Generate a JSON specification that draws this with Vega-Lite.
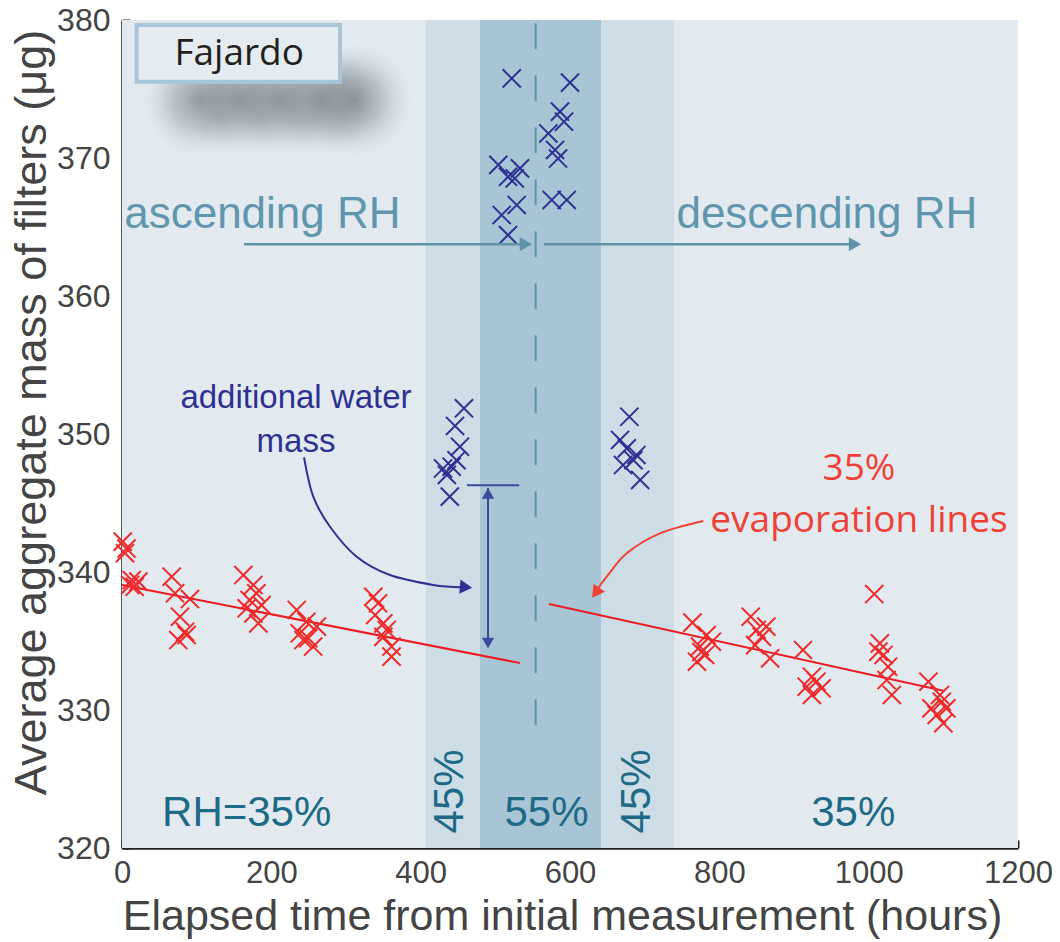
{
  "$schema": "https://vega.github.io/schema/vega-lite/v6.json",
  "width": 896,
  "height": 828,
  "autosize": "none",
  "padding": {"left": 122, "top": 20, "right": 42, "bottom": 94},
  "background": "#ffffff",
  "config": {"view": {"stroke": null}},
  "resolve": {"scale": {"color": "independent", "shape": "independent"}},
  "datasets": {
    "bands": [
      {"band": "base", "t0": 0, "t1": 1200},
      {"band": "mid", "t0": 407, "t1": 739},
      {"band": "core", "t0": 479.5, "t1": 641.5}
    ],
    "shadow": [
      {"t0": 24.1, "t1": 184.8, "m0": 369.85, "m1": 378.55},
      {"t0": 77.6, "t1": 238.3, "m0": 369.85, "m1": 378.55},
      {"t0": 131.2, "t1": 291.9, "m0": 369.85, "m1": 378.55},
      {"t0": 184.8, "t1": 345.5, "m0": 369.85, "m1": 378.55},
      {"t0": 231.7, "t1": 392.4, "m0": 369.85, "m1": 378.55}
    ],
    "points": [
      {"g": "dry", "t": 1, "m": 342.2}, {"g": "dry", "t": 6, "m": 341.7}, {"g": "dry", "t": 4, "m": 341.36},
      {"g": "dry", "t": 13, "m": 339.42}, {"g": "dry", "t": 22, "m": 339.3}, {"g": "dry", "t": 17, "m": 338.93}, {"g": "dry", "t": 11, "m": 339.06},
      {"g": "dry", "t": 66.6, "m": 339.66}, {"g": "dry", "t": 71, "m": 338.46}, {"g": "dry", "t": 91, "m": 338.04}, {"g": "dry", "t": 77.7, "m": 336.76},
      {"g": "dry", "t": 84.4, "m": 335.67}, {"g": "dry", "t": 75.4, "m": 335.07}, {"g": "dry", "t": 86.6, "m": 335.43},
      {"g": "dry", "t": 162.5, "m": 339.78}, {"g": "dry", "t": 176, "m": 339.06}, {"g": "dry", "t": 180, "m": 338.46}, {"g": "dry", "t": 171, "m": 337.97},
      {"g": "dry", "t": 167, "m": 337.37}, {"g": "dry", "t": 187, "m": 337.6}, {"g": "dry", "t": 182.6, "m": 336.28}, {"g": "dry", "t": 176, "m": 337.0},
      {"g": "dry", "t": 234, "m": 337.25}, {"g": "dry", "t": 247, "m": 336.4}, {"g": "dry", "t": 261, "m": 336.04}, {"g": "dry", "t": 238, "m": 335.56},
      {"g": "dry", "t": 249.5, "m": 335.2}, {"g": "dry", "t": 256, "m": 334.6}, {"g": "dry", "t": 243, "m": 335.07},
      {"g": "dry", "t": 336.6, "m": 338.2}, {"g": "dry", "t": 343, "m": 337.73}, {"g": "dry", "t": 339, "m": 336.88}, {"g": "dry", "t": 350, "m": 336.28},
      {"g": "dry", "t": 354.5, "m": 335.8}, {"g": "dry", "t": 350, "m": 335.3}, {"g": "dry", "t": 361, "m": 334.6}, {"g": "dry", "t": 361, "m": 333.87},
      {"g": "dry", "t": 764, "m": 336.33}, {"g": "dry", "t": 783, "m": 335.43}, {"g": "dry", "t": 790, "m": 334.95}, {"g": "dry", "t": 774, "m": 334.59},
      {"g": "dry", "t": 781, "m": 333.99}, {"g": "dry", "t": 770, "m": 333.5}, {"g": "dry", "t": 776, "m": 334.2},
      {"g": "dry", "t": 842, "m": 336.76}, {"g": "dry", "t": 850, "m": 335.8}, {"g": "dry", "t": 863, "m": 336.04}, {"g": "dry", "t": 857, "m": 335.3},
      {"g": "dry", "t": 848, "m": 334.7}, {"g": "dry", "t": 868, "m": 333.74},
      {"g": "dry", "t": 912, "m": 334.35}, {"g": "dry", "t": 924, "m": 332.41}, {"g": "dry", "t": 930, "m": 332.05}, {"g": "dry", "t": 917, "m": 331.69},
      {"g": "dry", "t": 937, "m": 331.57}, {"g": "dry", "t": 924, "m": 331.09},
      {"g": "dry", "t": 1007.5, "m": 338.4},
      {"g": "dry", "t": 1015, "m": 334.83}, {"g": "dry", "t": 1013, "m": 334.23}, {"g": "dry", "t": 1026, "m": 333.14}, {"g": "dry", "t": 1024, "m": 332.17},
      {"g": "dry", "t": 1031, "m": 331.09}, {"g": "dry", "t": 1020, "m": 333.99},
      {"g": "dry", "t": 1080, "m": 332.05}, {"g": "dry", "t": 1095.5, "m": 331.09}, {"g": "dry", "t": 1084, "m": 330.12}, {"g": "dry", "t": 1104, "m": 330.12},
      {"g": "dry", "t": 1091, "m": 329.64}, {"g": "dry", "t": 1100, "m": 329.04}, {"g": "dry", "t": 1098, "m": 330.6},
      {"g": "wet", "t": 458, "m": 351.86}, {"g": "wet", "t": 446, "m": 350.58}, {"g": "wet", "t": 452.6, "m": 349.08}, {"g": "wet", "t": 448, "m": 348.1},
      {"g": "wet", "t": 430, "m": 347.5}, {"g": "wet", "t": 441.5, "m": 347.63}, {"g": "wet", "t": 435, "m": 347.03}, {"g": "wet", "t": 439, "m": 345.46},
      {"g": "wet", "t": 679.5, "m": 351.25}, {"g": "wet", "t": 667, "m": 349.57}, {"g": "wet", "t": 676, "m": 348.96}, {"g": "wet", "t": 689, "m": 348.48},
      {"g": "wet", "t": 685, "m": 348.1}, {"g": "wet", "t": 671, "m": 347.75}, {"g": "wet", "t": 694, "m": 346.67},
      {"g": "wet", "t": 522, "m": 375.77}, {"g": "wet", "t": 600, "m": 375.46}, {"g": "wet", "t": 586.6, "m": 373.36}, {"g": "wet", "t": 592, "m": 372.63},
      {"g": "wet", "t": 571, "m": 371.78}, {"g": "wet", "t": 580, "m": 370.58}, {"g": "wet", "t": 584, "m": 369.96}, {"g": "wet", "t": 504, "m": 369.5},
      {"g": "wet", "t": 533, "m": 369.25}, {"g": "wet", "t": 517, "m": 368.64}, {"g": "wet", "t": 526, "m": 368.52}, {"g": "wet", "t": 575.5, "m": 366.96},
      {"g": "wet", "t": 595.6, "m": 366.96}, {"g": "wet", "t": 528.6, "m": 366.6}, {"g": "wet", "t": 508.5, "m": 365.87}, {"g": "wet", "t": 517, "m": 364.42}
    ],
    "fits": [
      {"seg": "ascending", "t": 0, "m": 339.06}, {"seg": "ascending", "t": 533, "m": 333.4},
      {"seg": "descending", "t": 572, "m": 337.68}, {"seg": "descending", "t": 1100, "m": 331.4}
    ],
    "blueCurve": [
      {"o": 1, "t": 243.8, "m": 348.31}, {"o": 2, "t": 256.2, "m": 345.46}, {"o": 3, "t": 278.6, "m": 343.28},
      {"o": 4, "t": 314.3, "m": 341.11}, {"o": 5, "t": 359, "m": 339.78}, {"o": 6, "t": 417, "m": 339.06}, {"o": 7, "t": 455, "m": 338.89}
    ],
    "redCurve": [
      {"o": 1, "t": 778.5, "m": 343.7}, {"o": 2, "t": 720.5, "m": 342.8}, {"o": 3, "t": 676, "m": 341.36},
      {"o": 4, "t": 649.2, "m": 339.66}, {"o": 5, "t": 636, "m": 338.7}
    ]
  },
  "layer": [
    {
      "data": {"name": "bands"},
      "mark": {"type": "rect"},
      "encoding": {
        "x": {"field": "t0", "type": "quantitative", "scale": {"domain": [0, 1200], "nice": false, "zero": false},
          "axis": {
            "title": "Elapsed time from initial measurement (hours)",
            "values": [0, 200, 400, 600, 800, 1000, 1200], "format": "d",
            "grid": false, "tickSize": -8, "tickWidth": 2, "tickColor": "#231f20",
            "domainColor": "#231f20", "domainWidth": 2.5,
            "labelFont": "Liberation Sans", "labelFontSize": 31, "labelColor": "#444444", "labelPadding": 18,
            "labelFlush": false,
            "titleFont": "Liberation Sans", "titleFontSize": 43, "titleFontWeight": "normal", "titleColor": "#444444",
            "titleX": 440, "titleY": 81, "titleBaseline": "alphabetic", "titleAlign": "center"
          }},
        "x2": {"field": "t1"},
        "y": {"datum": 320, "type": "quantitative", "scale": {"domain": [320, 380], "nice": false, "zero": false},
          "axis": {
            "title": "Average aggregate mass of filters (μg)",
            "values": [320, 330, 340, 350, 360, 370, 380],
            "grid": false, "tickSize": -8, "tickWidth": 2, "tickColor": "#231f20",
            "domainColor": "#231f20", "domainWidth": 2.5,
            "labelFont": "Liberation Sans", "labelFontSize": 32, "labelColor": "#444444", "labelPadding": 20,
            "labelFlush": false,
            "titleFont": "Liberation Sans", "titleFontSize": 45, "titleFontWeight": "normal", "titleColor": "#444444",
            "titleX": -77, "titleY": 392, "titleBaseline": "alphabetic", "titleAlign": "center", "titleAngle": 270
          }},
        "y2": {"datum": 380},
        "color": {"field": "band", "type": "nominal", "scale": {"domain": ["base", "mid", "core"], "range": ["#e2eaef", "#cddde6", "#a8c5d5"]}, "legend": null}
      }
    },
    {
      "data": {"name": "shadow"},
      "mark": {"type": "rect", "color": {"gradient": "radial", "x1": 0.5, "y1": 0.5, "x2": 0.5, "y2": 0.5, "r1": 0, "r2": 0.5,
        "stops": [{"offset": 0, "color": "rgba(112,120,126,0.7)"}, {"offset": 0.45, "color": "rgba(122,130,136,0.38)"}, {"offset": 0.8, "color": "rgba(160,168,174,0.1)"}, {"offset": 1, "color": "rgba(226,234,239,0)"}]}},
      "encoding": {
        "x": {"field": "t0", "type": "quantitative"}, "x2": {"field": "t1"},
        "y": {"field": "m0", "type": "quantitative"}, "y2": {"field": "m1"}
      }
    },
    {
      "data": {"values": [{"t0": 19.7, "t1": 292, "m0": 375.53, "m1": 379.64}]},
      "mark": {"type": "rect", "fill": "#e4ecf1", "stroke": "#a6c6d6", "strokeWidth": 4},
      "encoding": {
        "x": {"field": "t0", "type": "quantitative"}, "x2": {"field": "t1"},
        "y": {"field": "m0", "type": "quantitative"}, "y2": {"field": "m1"}
      }
    },
    {
      "data": {"values": [{"label": "Fajardo", "t": 157, "m": 376.74}]},
      "mark": {"type": "text", "font": "Open Sans", "fontSize": 37, "color": "#231f20", "align": "center", "baseline": "alphabetic"},
      "encoding": {"x": {"field": "t", "type": "quantitative"}, "y": {"field": "m", "type": "quantitative"}, "text": {"field": "label"}}
    },
    {
      "data": {"values": [{"t": 554, "m0": 328.9, "m1": 380}]},
      "mark": {"type": "rule", "color": "#5e93aa", "strokeWidth": 2, "strokeDash": [26, 26]},
      "encoding": {"x": {"field": "t", "type": "quantitative"}, "y": {"field": "m0", "type": "quantitative"}, "y2": {"field": "m1"}}
    },
    {
      "data": {"name": "fits"},
      "mark": {"type": "line", "color": "#ed1c24", "strokeWidth": 2},
      "encoding": {"x": {"field": "t", "type": "quantitative"}, "y": {"field": "m", "type": "quantitative"}, "detail": {"field": "seg"}}
    },
    {
      "data": {"name": "points"},
      "mark": {"type": "point", "shape": "M-1,-1L1,1M-1,1L1,-1", "filled": false, "strokeWidth": 2, "size": 330, "opacity": 1},
      "encoding": {
        "x": {"field": "t", "type": "quantitative"},
        "y": {"field": "m", "type": "quantitative"},
        "color": {"field": "g", "type": "nominal", "scale": {"domain": ["dry", "wet"], "range": ["#ee2a2a", "#2e3192"]}, "legend": null}
      }
    },
    {
      "data": {"values": [{"t0": 163.4, "t1": 545, "m": 363.75}, {"t0": 565, "t1": 985, "m": 363.75}]},
      "mark": {"type": "rule", "color": "#5e93aa", "strokeWidth": 2.5},
      "encoding": {"x": {"field": "t0", "type": "quantitative"}, "x2": {"field": "t1"}, "y": {"field": "m", "type": "quantitative"}}
    },
    {
      "data": {"values": [{"t": 541, "m": 363.75}, {"t": 981.7, "m": 363.75}]},
      "mark": {"type": "point", "shape": "triangle-right", "filled": true, "size": 200, "color": "#5e93aa", "opacity": 1},
      "encoding": {"x": {"field": "t", "type": "quantitative"}, "y": {"field": "m", "type": "quantitative"}}
    },
    {
      "data": {"values": [{"t0": 490.2, "t1": 490.2, "m0": 334.6, "m1": 346.1}, {"t0": 462, "t1": 532, "m0": 346.28, "m1": 346.28}]},
      "mark": {"type": "rule", "color": "#3a4a9c", "strokeWidth": 2},
      "encoding": {"x": {"field": "t0", "type": "quantitative"}, "x2": {"field": "t1"}, "y": {"field": "m0", "type": "quantitative"}, "y2": {"field": "m1"}}
    },
    {
      "data": {"values": [{"t": 490.2, "m": 345.7, "dir": "up"}, {"t": 490.2, "m": 334.85, "dir": "down"}]},
      "mark": {"type": "point", "filled": true, "size": 150, "color": "#3a4a9c", "opacity": 1},
      "encoding": {"x": {"field": "t", "type": "quantitative"}, "y": {"field": "m", "type": "quantitative"},
        "shape": {"field": "dir", "type": "nominal", "scale": {"domain": ["up", "down"], "range": ["triangle-up", "triangle-down"]}, "legend": null}}
    },
    {
      "data": {"name": "blueCurve"},
      "mark": {"type": "line", "color": "#2e3192", "strokeWidth": 2, "interpolate": "cardinal"},
      "encoding": {"x": {"field": "t", "type": "quantitative"}, "y": {"field": "m", "type": "quantitative"}, "order": {"field": "o"}}
    },
    {
      "data": {"values": [{"t": 460.7, "m": 338.9}]},
      "mark": {"type": "point", "shape": "triangle-right", "filled": true, "size": 200, "color": "#2e3192", "opacity": 1, "angle": 5},
      "encoding": {"x": {"field": "t", "type": "quantitative"}, "y": {"field": "m", "type": "quantitative"}}
    },
    {
      "data": {"name": "redCurve"},
      "mark": {"type": "line", "color": "#ef4136", "strokeWidth": 2, "interpolate": "cardinal"},
      "encoding": {"x": {"field": "t", "type": "quantitative"}, "y": {"field": "m", "type": "quantitative"}, "order": {"field": "o"}}
    },
    {
      "data": {"values": [{"t": 634.5, "m": 338.5}]},
      "mark": {"type": "point", "shape": "triangle-up", "filled": true, "size": 200, "color": "#ef4136", "opacity": 1, "angle": 215},
      "encoding": {"x": {"field": "t", "type": "quantitative"}, "y": {"field": "m", "type": "quantitative"}}
    },
    {
      "data": {"values": [{"label": "ascending RH", "t": 188, "m": 364.93}, {"label": "descending RH", "t": 944, "m": 364.93}]},
      "mark": {"type": "text", "font": "Liberation Sans", "fontSize": 44, "color": "#6096ad", "align": "center", "baseline": "alphabetic"},
      "encoding": {"x": {"field": "t", "type": "quantitative"}, "y": {"field": "m", "type": "quantitative"}, "text": {"field": "label"}}
    },
    {
      "data": {"values": [{"label": "additional water", "t": 233, "m": 351.88}, {"label": "mass", "t": 233, "m": 348.72}]},
      "mark": {"type": "text", "font": "Liberation Sans", "fontSize": 33, "color": "#2e3192", "align": "center", "baseline": "alphabetic"},
      "encoding": {"x": {"field": "t", "type": "quantitative"}, "y": {"field": "m", "type": "quantitative"}, "text": {"field": "label"}}
    },
    {
      "data": {"values": [{"label": "35%", "t": 987, "m": 346.67}, {"label": "evaporation lines", "t": 987, "m": 342.92}]},
      "mark": {"type": "text", "font": "Open Sans", "fontSize": 37, "color": "#ef4136", "align": "center", "baseline": "alphabetic"},
      "encoding": {"x": {"field": "t", "type": "quantitative"}, "y": {"field": "m", "type": "quantitative"}, "text": {"field": "label"}}
    },
    {
      "data": {"values": [{"label": "RH=35%", "t": 167, "m": 321.6}, {"label": "55%", "t": 568.5, "m": 321.6}, {"label": "35%", "t": 979.4, "m": 321.6}]},
      "mark": {"type": "text", "font": "Liberation Sans", "fontSize": 42, "color": "#1e6a86", "align": "center", "baseline": "alphabetic"},
      "encoding": {"x": {"field": "t", "type": "quantitative"}, "y": {"field": "m", "type": "quantitative"}, "text": {"field": "label"}}
    },
    {
      "data": {"values": [{"label": "45%", "t": 439.3, "m": 324.1}, {"label": "45%", "t": 689.3, "m": 324.1}]},
      "mark": {"type": "text", "font": "Liberation Sans", "fontSize": 42, "color": "#1e6a86", "align": "center", "baseline": "middle", "angle": 270},
      "encoding": {"x": {"field": "t", "type": "quantitative"}, "y": {"field": "m", "type": "quantitative"}, "text": {"field": "label"}}
    }
  ]
}
